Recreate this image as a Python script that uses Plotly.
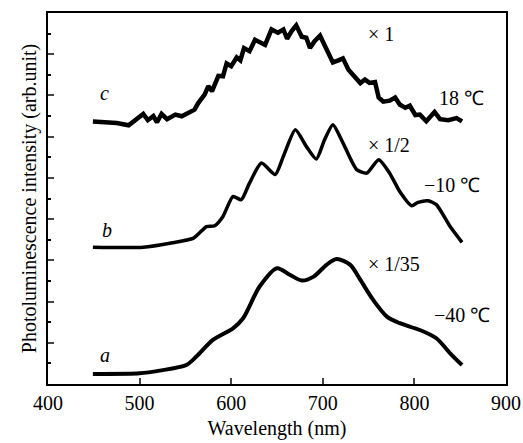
import plotly.graph_objects as go

# espectros (longitud de onda en nm, intensidad desplazada en u.a.)
wl_a = [449, 500, 522, 551, 562, 580, 602, 613, 631, 650, 664, 677, 690, 704, 715,
        730, 741, 755, 770, 784, 806, 824, 839, 852]
int_a = [0.49, 0.52, 0.65, 0.92, 1.33, 2.14, 2.7, 3.19, 4.73, 5.62, 5.3, 5.02, 5.21,
         5.78, 6.06, 5.78, 5.05, 4.08, 3.27, 2.95, 2.62, 2.22, 1.49, 0.92]

wl_b = [449, 504, 533, 559, 573, 582, 591, 602, 611, 620, 633, 648, 657, 670, 682,
        693, 702, 711, 722, 737, 748, 761, 773, 784, 797, 804, 815, 824, 839, 852]
int_b = [6.64, 6.64, 6.83, 7.08, 7.64, 7.68, 8.13, 9.1, 8.94, 9.75, 10.72, 10.16,
         11.05, 12.34, 11.53, 10.92, 11.86, 12.58, 11.7, 10.4, 10.23, 10.88, 10.23,
         9.34, 8.65, 8.81, 8.89, 8.7, 7.64, 6.87]

wl_c = [449, 460, 475, 488, 497, 504, 509, 515, 519, 524, 530, 539, 546, 555, 560,
        564, 571, 575, 579, 586, 591, 595, 600, 606, 610, 614, 620, 626, 631, 637,
        644, 651, 657, 661, 666, 671, 677, 682, 686, 691, 697, 702, 708, 711, 717,
        722, 728, 735, 741, 746, 751, 757, 761, 766, 773, 779, 784, 790, 795, 801,
        806, 813, 822, 828, 837, 846, 852]
int_c = [12.74, 12.71, 12.66, 12.55, 12.83, 13.1, 12.8, 13.0, 12.7, 13.1, 12.85,
         13.07, 12.99, 13.2, 13.31, 13.63, 14.04, 14.45, 14.2, 14.95, 14.93, 15.55,
         15.42, 15.85, 15.7, 16.3, 16.15, 16.7, 16.6, 16.45, 17.2, 17.04, 17.2,
         16.75, 17.12, 17.4, 16.85, 16.8, 16.3, 16.63, 16.9, 16.47, 15.9, 15.6,
         15.7, 15.8, 15.25, 14.9, 14.6, 14.77, 14.61, 14.65, 13.9, 13.7, 13.75,
         13.9, 13.56, 13.4, 13.5, 13.05, 13.07, 12.75, 13.2, 12.85, 12.8, 12.9,
         12.74]

etiquetas = ["a", "b", "c"]
factores = ["× 1/35", "× 1/2", "× 1"]
temperaturas = ["−40 ℃", "−10 ℃", "18 ℃"]

fuente = "Liberation Serif, Times New Roman, serif"

fig = go.Figure()
fig.add_trace(go.Scatter(x=wl_a, y=int_a, mode="lines", line=dict(color="black", width=4, shape="spline", smoothing=0.8)))
fig.add_trace(go.Scatter(x=wl_b, y=int_b, mode="lines", line=dict(color="black", width=3.5, shape="spline", smoothing=0.6)))
fig.add_trace(go.Scatter(x=wl_c, y=int_c, mode="lines", line=dict(color="black", width=4.5)))

# letras de cada curva
pos_letras = [(462, 1.4), (464, 7.45), (462, 14.1)]
for txt, (x, y) in zip(etiquetas, pos_letras):
    fig.add_annotation(x=x, y=y, text="<i>" + txt + "</i>", showarrow=False,
                       font=dict(family=fuente, size=20, color="black"))

# factores de escala
pos_factores = [(778, 5.8), (772, 11.6), (764, 17.0)]
for txt, (x, y) in zip(factores, pos_factores):
    fig.add_annotation(x=x, y=y, text=txt, showarrow=False,
                       font=dict(family=fuente, size=20, color="black"))

# temperaturas
pos_temp = [(852, 3.35), (841, 9.67), (851, 13.9)]
for txt, (x, y) in zip(temperaturas, pos_temp):
    fig.add_annotation(x=x, y=y, text=txt, showarrow=False,
                       font=dict(family=fuente, size=20, color="black"))

fig.update_xaxes(range=[400, 900], dtick=100, ticks="inside", ticklen=6, tickwidth=2,
                 showline=True, linecolor="black", linewidth=2, mirror=True,
                 showgrid=False, zeroline=False, automargin=False,
                 tickfont=dict(family=fuente, size=20, color="black"),
                 title=dict(text="Wavelength (nm)", standoff=8,
                            font=dict(family=fuente, size=20, color="black")))
fig.update_yaxes(range=[0, 18], dtick=2, ticks="inside", ticklen=6, tickwidth=2,
                 showticklabels=False, automargin=False,
                 minor=dict(dtick=1, ticks="inside", ticklen=3, tickwidth=2, tickcolor="black"),
                 showline=True, linecolor="black", linewidth=2, mirror=True,
                 showgrid=False, zeroline=False,
                 title=dict(text="Photoluminescence intensity (arb.unit)", standoff=4,
                            font=dict(family=fuente, size=20, color="black")))

fig.update_layout(width=523, height=443, showlegend=False,
                  plot_bgcolor="white", paper_bgcolor="white",
                  margin=dict(l=48, r=17, t=13, b=59))

# quitar el margen por defecto del body para que la figura llene la ventana
fig.write_html("out.html", config={"displayModeBar": False},
               post_script="document.body.style.margin='0';")
